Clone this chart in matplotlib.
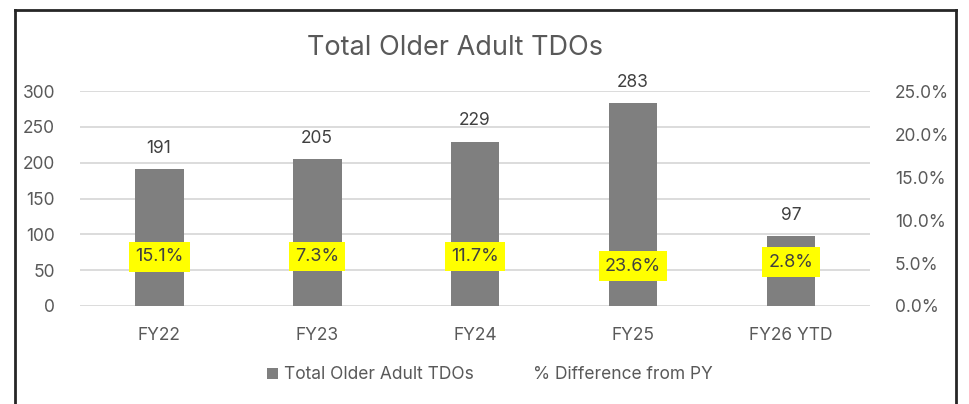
import matplotlib
matplotlib.use("Agg")
import matplotlib.pyplot as plt
from matplotlib.patches import Patch
from matplotlib.lines import Line2D

# chart data
years = ["FY22", "FY23", "FY24", "FY25", "FY26 YTD"]
tdos = [191, 205, 229, 283, 97]
pct_diff = [15.1, 7.3, 11.7, 23.6, 2.8]

plt.rcParams['font.family'] = ['Inter', 'DejaVu Sans']
txt = "#595959"
bar_c = "#7f7f7f"

fig = plt.figure(figsize=(9.7, 4.04), dpi=100)
ax = fig.add_axes([0.0825, 0.2426, 0.8144, 0.532])

x = range(len(years))
ax.bar(x, tdos, width=0.31, color=bar_c, zorder=3)
for i, v in zip(x, tdos):
    ax.annotate(str(v), (i, v), xytext=(0, 9), textcoords="offset points",
                ha="center", va="bottom", fontsize=12.5, color="#404040")

ax.set_ylim(0, 300)
ax.set_xlim(-0.5, len(years) - 0.5)
ax.set_yticks(range(0, 301, 50))
ax.set_xticks(list(x))
ax.set_xticklabels(years)
ax.yaxis.grid(True, color="#d9d9d9", linewidth=1.3, zorder=0)
ax.tick_params(axis="both", length=0, labelsize=12.5, labelcolor=txt)
ax.tick_params(axis="x", pad=15)
ax.tick_params(axis="y", pad=18)
for s in ax.spines.values():
    s.set_visible(False)

# secondary axis for % difference (line hidden, labels only)
ax2 = ax.twinx()
ax2.set_ylim(0, 25)
ax2.set_yticks(range(0, 26, 5))
ax2.set_yticklabels([f"{t:.1f}%" for t in range(0, 26, 5)])
ax2.tick_params(axis="y", length=0, labelsize=12.5, labelcolor=txt, pad=18)
for s in ax2.spines.values():
    s.set_visible(False)

label_y = [5.7, 5.75, 5.75, 4.65, 5.1]
for i, p, ly in zip(x, pct_diff, label_y):
    ax2.text(i, ly, f"{p:.1f}%", ha="center", va="center", fontsize=13,
             color="#404040", zorder=5,
             bbox=dict(boxstyle="square,pad=0.35", facecolor="#ffff00", edgecolor="none"))

fig.text(0.469, 0.882, "Total Older Adult TDOs", ha="center", va="center",
         fontsize=19.5, color=txt)

handles = [Patch(facecolor=bar_c, edgecolor="none"),
           Line2D([], [], linestyle="none")]
fig.legend(handles, ["Total Older Adult TDOs", "% Difference from PY"],
           loc="center", bbox_to_anchor=(0.505, 0.072), ncol=2, frameon=False,
           fontsize=12.5, labelcolor=txt, handlelength=0.65, handleheight=0.65,
           handletextpad=0.35, columnspacing=2.4)

# outer frame
frame = dict(color="#262626", linewidth=2, transform=fig.transFigure)
fig.add_artist(Line2D([15 / 970, 15 / 970], [0, 1 - 10 / 404], **frame))
fig.add_artist(Line2D([15 / 970, 956 / 970], [1 - 10 / 404, 1 - 10 / 404], **frame))
fig.add_artist(Line2D([956 / 970, 956 / 970], [0, 1 - 10 / 404], **frame))

fig.savefig("out.png", dpi=100)
